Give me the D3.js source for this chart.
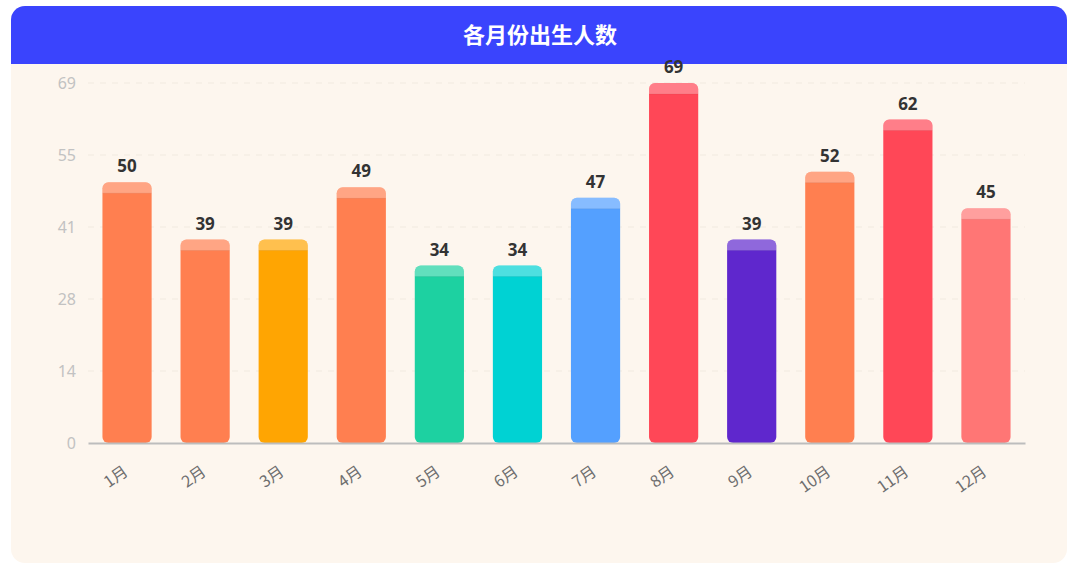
<!DOCTYPE html>
<html>
<head>
<meta charset="utf-8">
<script src="https://cdn.jsdelivr.net/npm/d3@7"></script>
<style>
    html, body { margin: 0; padding: 0; background: #fff; }
    svg { display: block; font-family: "Noto Sans CJK SC", "Noto Sans", sans-serif; }
</style>
</head>
<body>
<div id="chart"></div>
<script>
// chart data
const months = ["1月", "2月", "3月", "4月", "5月", "6月", "7月", "8月", "9月", "10月", "11月", "12月"];
const births = [50, 39, 39, 49, 34, 34, 47, 69, 39, 52, 62, 45];
const yTicks = [0, 13.8, 27.6, 41.4, 55.2, 69];
const fills = ["#FF7F50", "#FF7F50", "#FFA502", "#FF7F50", "#1DD1A1", "#00D2D3", "#54A0FF", "#FF4757", "#5F27CD", "#FF7F50", "#FF4757", "#FF7675"];
const title = "各月份出生人数";

const W = 1080, H = 569;
const panel = {x: 11, y: 6, w: 1056, h: 557, r: 14, head: 58};
const margin = {top: 83, left: 88, right: 55, bottom: 126};

const svg = d3.select("#chart").append("svg")
    .attr("width", W)
    .attr("height", H);

// panel background: cream body + blue header
svg.append("path")
    .attr("d", roundRect(panel.x, panel.y, panel.w, panel.h, panel.r, panel.r, panel.r, panel.r))
    .attr("fill", "#FDF6EE");
svg.append("path")
    .attr("d", roundRect(panel.x, panel.y, panel.w, panel.head, panel.r, panel.r, 0, 0))
    .attr("fill", "#3A44FD");
svg.append("text")
    .attr("x", W / 2)
    .attr("y", panel.y + panel.head / 2 + 8)
    .attr("text-anchor", "middle")
    .attr("fill", "#fff")
    .attr("font-size", 22)
    .attr("font-weight", 700)
    .text(title);

const x = d3.scaleBand()
    .domain(months)
    .range([margin.left, W - margin.right])
    .paddingInner(0.37)
    .paddingOuter(0.185);

const y = d3.scaleLinear()
    .domain([0, d3.max(births)])
    .range([H - margin.bottom, margin.top]);

// grid lines
svg.append("g")
    .selectAll("line")
    .data(yTicks.slice(1))
    .join("line")
    .attr("x1", margin.left)
    .attr("x2", W - margin.right)
    .attr("y1", d => y(d))
    .attr("y2", d => y(d))
    .attr("stroke", "#F1EAE0")
    .attr("stroke-dasharray", "6,6");

// y axis labels
const yAxis = svg.append("g")
    .attr("transform", `translate(${margin.left},0)`)
    .call(d3.axisLeft(y).tickValues(yTicks).tickFormat(d => Math.round(d)).tickSize(0).tickPadding(12));
yAxis.select(".domain").remove();
yAxis.attr("font-family", null).attr("font-size", null);
yAxis.selectAll("text")
    .attr("fill", "#C2C2C2")
    .attr("font-size", 16)
    .attr("font-family", "'Noto Sans', sans-serif");

// bars
const bar = svg.append("g")
    .selectAll("g")
    .data(births)
    .join("g");

const capH = 11;

bar.append("path")
    .attr("d", (d, i) => {
        const x0 = x(months[i]);
        return roundRect(x0, y(d), x.bandwidth(), y(0) - y(d), 6, 6, 6, 6);
    })
    .attr("fill", (d, i) => fills[i]);

bar.append("path")
    .attr("d", (d, i) => {
        const x0 = x(months[i]);
        return roundRect(x0, y(d), x.bandwidth(), capH, 6, 6, 0, 0);
    })
    .attr("fill", "#fff")
    .attr("fill-opacity", 0.3);

bar.append("line")
    .attr("x1", (d, i) => x(months[i]))
    .attr("x2", (d, i) => x(months[i]) + x.bandwidth())
    .attr("y1", d => y(d) + capH)
    .attr("y2", d => y(d) + capH)
    .attr("stroke", "#000")
    .attr("stroke-opacity", 0.05);

bar.append("text")
    .attr("x", (d, i) => x(months[i]) + x.bandwidth() / 2)
    .attr("y", d => y(d) - 10)
    .attr("text-anchor", "middle")
    .attr("fill", "#333")
    .attr("font-size", 17)
    .attr("font-weight", 700)
    .attr("font-family", "'Noto Sans', sans-serif")
    .text(d => d);

// x axis
const xAxis = svg.append("g")
    .attr("transform", `translate(0,${y(0)})`)
    .call(d3.axisBottom(x).tickSize(0).tickPadding(0));
xAxis.attr("font-family", null).attr("font-size", null);
xAxis.select(".domain")
    .attr("stroke", "#BDBDBD")
    .attr("stroke-width", 2);
xAxis.selectAll(".tick text")
    .attr("fill", "#6E6E6E")
    .attr("font-size", 16)
    .attr("text-anchor", "end")
    .attr("dy", 0)
    .attr("transform", "translate(2,31) rotate(-35)");

function roundRect(x0, y0, w, h, tl, tr, br, bl) {
    return `M${x0 + tl},${y0}` +
        `H${x0 + w - tr}` + (tr ? `A${tr},${tr} 0 0 1 ${x0 + w},${y0 + tr}` : "") +
        `V${y0 + h - br}` + (br ? `A${br},${br} 0 0 1 ${x0 + w - br},${y0 + h}` : "") +
        `H${x0 + bl}` + (bl ? `A${bl},${bl} 0 0 1 ${x0},${y0 + h - bl}` : "") +
        `V${y0 + tl}` + (tl ? `A${tl},${tl} 0 0 1 ${x0 + tl},${y0}` : "") + "Z";
}
</script>
</body>
</html>
